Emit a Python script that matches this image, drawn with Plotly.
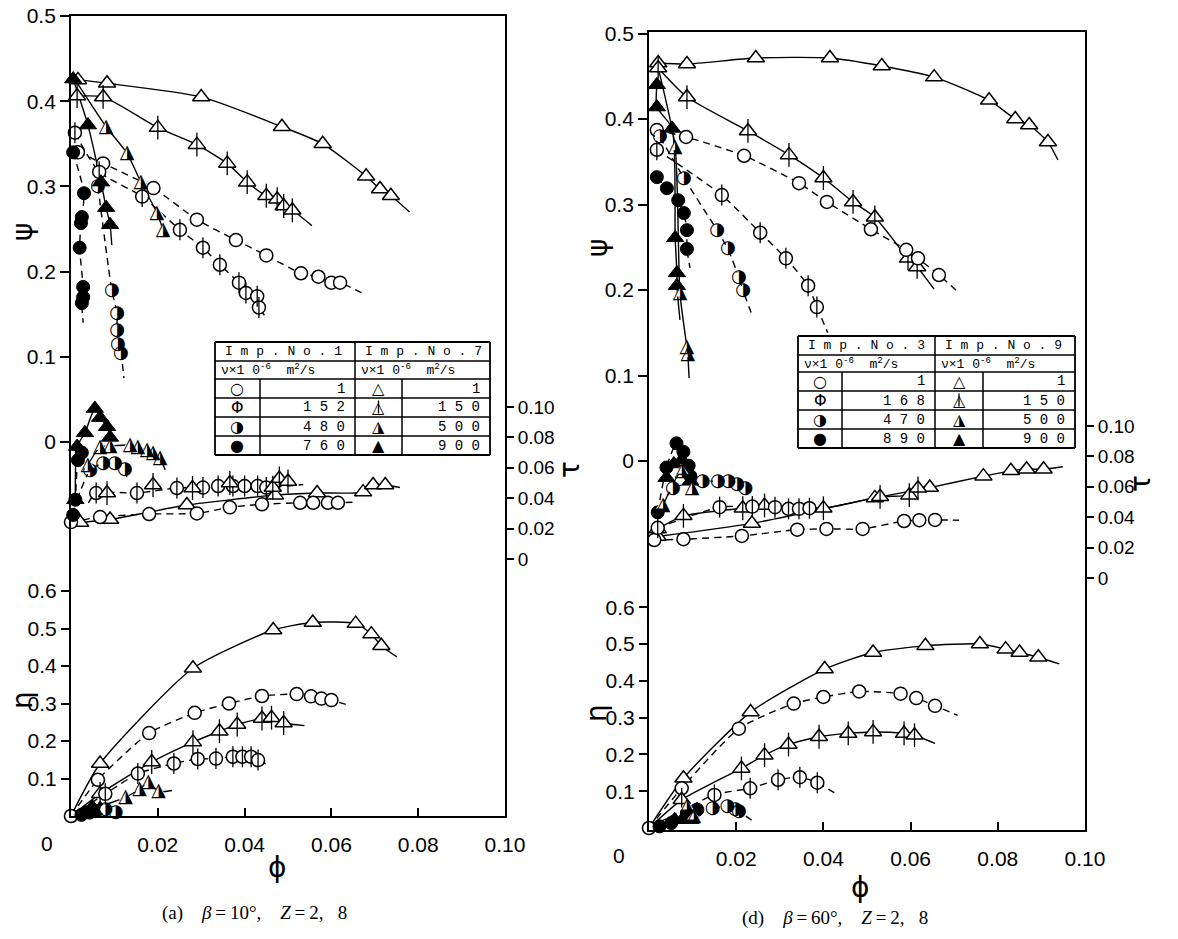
import plotly.graph_objects as go

W, H = 1178, 939

# ---------------- tick labels / texts ----------------
PHI_TICKS = [0.02, 0.04, 0.06, 0.08, 0.10]
PHI_TICK_TEXT = ["0.02", "0.04", "0.06", "0.08", "0.10"]
PSI_TICKS = [0, 0.1, 0.2, 0.3, 0.4, 0.5]
PSI_TICK_TEXT = ["0", "0.1", "0.2", "0.3", "0.4", "0.5"]
TAU_TICKS = [0, 0.02, 0.04, 0.06, 0.08, 0.10]
TAU_TICK_TEXT = ["0", "0.02", "0.04", "0.06", "0.08", "0.10"]
ETA_TICKS = [0.1, 0.2, 0.3, 0.4, 0.5, 0.6]
ETA_TICK_TEXT = ["0.1", "0.2", "0.3", "0.4", "0.5", "0.6"]

A_IMP = ["Imp.No.1", "Imp.No.7"]
A_NU_CIRCLE = ["1", "152", "480", "760"]
A_NU_TRIANGLE = ["1", "150", "500", "900"]
D_IMP = ["Imp.No.3", "Imp.No.9"]
D_NU_CIRCLE = ["1", "168", "470", "890"]
D_NU_TRIANGLE = ["1", "150", "500", "900"]
CAPTION_A = "(a)\u2003<i>β</i>\u2009=\u200910°,\u2003<i>Z</i>\u2009=\u20092,\u2002 8"
CAPTION_D = "(d)\u2003<i>β</i>\u2009=\u200960°,\u2003<i>Z</i>\u2009=\u20092,\u2002 8"

# ---------------- panel (a): psi ----------------
A_PSI_T_PHI = [0.0016, 0.0083, 0.030, 0.0486, 0.058, 0.068, 0.0712, 0.0737]
A_PSI_T_VAL = [0.425, 0.421, 0.405, 0.370, 0.350, 0.312, 0.297, 0.289]
A_PSI_T_END = [0.078, 0.270]
A_PSI_TB_PHI = [0.0014, 0.0074, 0.020, 0.029, 0.036, 0.0406, 0.045, 0.0475, 0.049, 0.051]
A_PSI_TB_VAL = [0.406, 0.405, 0.369, 0.349, 0.327, 0.305, 0.289, 0.285, 0.277, 0.272]
A_PSI_TB_END = [0.0555, 0.254]
A_PSI_O_PHI = [0.0016, 0.0074, 0.019, 0.029, 0.038, 0.045, 0.053, 0.057, 0.060, 0.062]
A_PSI_O_VAL = [0.340, 0.327, 0.298, 0.261, 0.237, 0.219, 0.198, 0.194, 0.187, 0.187]
A_PSI_O_END = [0.067, 0.175]
A_PSI_OB_PHI = [0.0009, 0.0065, 0.0164, 0.0251, 0.0304, 0.0343, 0.0387, 0.0403, 0.0429, 0.0433]
A_PSI_OB_VAL = [0.363, 0.317, 0.288, 0.249, 0.228, 0.208, 0.187, 0.175, 0.171, 0.158]
A_PSI_OB_END = [0.045, 0.146]
A_PSI_OH_PHI = [0.0062, 0.0094, 0.0106, 0.0106, 0.0108, 0.0115]
A_PSI_OH_VAL = [0.300, 0.178, 0.151, 0.131, 0.114, 0.104]
A_PSI_OH_END = [0.0122, 0.075]
A_PSI_OF_PHI = [0.0005, 0.003, 0.0025, 0.0023, 0.002, 0.0028, 0.0028, 0.0025]
A_PSI_OF_VAL = [0.340, 0.292, 0.264, 0.257, 0.228, 0.182, 0.170, 0.163]
A_PSI_OF_END = [0.0028, 0.140]
A_PSI_TF_PHI = [0.0005, 0.0039, 0.0069, 0.0081, 0.009]
A_PSI_TF_VAL = [0.426, 0.372, 0.305, 0.275, 0.255]
A_PSI_TF_END = [0.0094, 0.231]
A_PSI_TH_PHI = [0.0081, 0.0129, 0.0161, 0.0198, 0.0212]
A_PSI_TH_VAL = [0.370, 0.339, 0.305, 0.269, 0.249]
A_PSI_TH_START = [0.0016, 0.420]

# ---------------- panel (a): tau ----------------
A_TAU_T_PHI = [0.0021, 0.009, 0.0267, 0.047, 0.0567, 0.0673, 0.0696, 0.0724]
A_TAU_T_VAL = [0.024, 0.026, 0.0355, 0.042, 0.0434, 0.044, 0.0487, 0.0487]
A_TAU_T_END = [0.0758, 0.047]
A_TAU_O_PHI = [0.0, 0.0067, 0.018, 0.029, 0.0366, 0.044, 0.0528, 0.0558, 0.0592, 0.0615]
A_TAU_O_VAL = [0.0243, 0.0276, 0.0296, 0.030, 0.034, 0.036, 0.037, 0.037, 0.037, 0.037]
A_TAU_O_END = [0.066, 0.0375]
A_TAU_OB_PHI = [0.0058, 0.0152, 0.0244, 0.0304, 0.0339, 0.0373, 0.040, 0.043, 0.045]
A_TAU_OB_VAL = [0.0434, 0.0434, 0.0467, 0.047, 0.048, 0.048, 0.048, 0.048, 0.047]
A_TAU_OB_START = [0.004, 0.037]
A_TAU_OB_END = [0.0535, 0.049]
A_TAU_TB_PHI = [0.0083, 0.0189, 0.028, 0.0366, 0.0465, 0.048, 0.050]
A_TAU_TB_VAL = [0.0434, 0.0487, 0.0467, 0.050, 0.047, 0.053, 0.051]
A_TAU_OH_PHI = [0.0044, 0.0074, 0.0101, 0.0124]
A_TAU_OH_VAL = [0.0585, 0.063, 0.063, 0.059]
A_TAU_OH_START = [0.0014, 0.039]
A_TAU_OH_END = [0.013, 0.0507]
A_TAU_OF_PHI = [0.0005, 0.001, 0.0016, 0.0025]
A_TAU_OF_VAL = [0.029, 0.039, 0.065, 0.070]
A_TAU_TF_PHI = [0.001, 0.0014, 0.0032, 0.0055, 0.0067, 0.0083, 0.009]
A_TAU_TF_VAL = [0.039, 0.074, 0.083, 0.099, 0.093, 0.087, 0.080]
A_TAU_TH_PHI = [0.0039, 0.0067, 0.009, 0.0136, 0.0154, 0.0175, 0.0189, 0.0205]
A_TAU_TH_VAL = [0.062, 0.0737, 0.0743, 0.075, 0.0737, 0.0717, 0.0697, 0.0664]
A_TAU_TH_END = [0.0217, 0.0586]

# ---------------- panel (a): eta ----------------
A_ETA_T_PHI = [0.0067, 0.0281, 0.0466, 0.0557, 0.0656, 0.0692, 0.0715]
A_ETA_T_VAL = [0.140, 0.394, 0.496, 0.516, 0.513, 0.485, 0.454]
A_ETA_T_START = [0.0, 0.0]
A_ETA_T_END = [0.0751, 0.424]
A_ETA_O_PHI = [0.0, 0.0062, 0.018, 0.0285, 0.0364, 0.044, 0.052, 0.0553, 0.0577, 0.060]
A_ETA_O_VAL = [0.0, 0.0966, 0.221, 0.275, 0.300, 0.320, 0.325, 0.319, 0.313, 0.309]
A_ETA_O_END = [0.064, 0.295]
A_ETA_TB_PHI = [0.0067, 0.0186, 0.0281, 0.0342, 0.0383, 0.044, 0.0462, 0.049]
A_ETA_TB_VAL = [0.059, 0.144, 0.197, 0.226, 0.244, 0.260, 0.262, 0.248]
A_ETA_TB_START = [0.0, 0.0]
A_ETA_TB_END = [0.0538, 0.241]
A_ETA_OB_PHI = [0.0079, 0.0154, 0.0237, 0.0292, 0.0334, 0.0373, 0.0395, 0.0415, 0.0431]
A_ETA_OB_VAL = [0.059, 0.113, 0.140, 0.152, 0.153, 0.158, 0.158, 0.158, 0.149]
A_ETA_OB_START = [0.0, 0.0]
A_ETA_OB_END = [0.0458, 0.135]
A_ETA_TH_PHI = [0.0126, 0.0158, 0.0178, 0.0202]
A_ETA_TH_VAL = [0.050, 0.072, 0.090, 0.065]
A_ETA_TH_START = [0.0, 0.0]
A_ETA_TH_END = [0.0233, 0.068]
A_ETA_TF_PHI = [0.0032, 0.0049, 0.0067]
A_ETA_TF_VAL = [0.009, 0.024, 0.020]
A_ETA_OF_PHI = [0.0024, 0.0043, 0.0059]
A_ETA_OF_VAL = [0.003, 0.009, 0.0135]
A_ETA_OH_PHI = [0.0079, 0.0103]
A_ETA_OH_VAL = [0.018, 0.009]

# ---------------- panel (d): psi ----------------
D_PSI_T_PHI = [0.0021, 0.0087, 0.0245, 0.0415, 0.0534, 0.0654, 0.078, 0.084, 0.0872, 0.0915]
D_PSI_T_VAL = [0.4655, 0.4643, 0.4713, 0.4713, 0.462, 0.449, 0.422, 0.400, 0.393, 0.373]
D_PSI_T_END = [0.0938, 0.352]
D_PSI_TB_PHI = [0.0021, 0.0087, 0.0227, 0.0321, 0.040, 0.0468, 0.0518, 0.0594, 0.0615]
D_PSI_TB_VAL = [0.4596, 0.4257, 0.386, 0.358, 0.331, 0.303, 0.285, 0.237, 0.227]
D_PSI_TB_END = [0.0654, 0.201]
D_PSI_O_PHI = [0.0018, 0.0085, 0.0218, 0.0344, 0.0408, 0.0509, 0.059, 0.0617, 0.0665]
D_PSI_O_VAL = [0.387, 0.379, 0.357, 0.325, 0.303, 0.271, 0.247, 0.237, 0.2175]
D_PSI_O_END = [0.0706, 0.199]
D_PSI_OB_PHI = [0.0018, 0.0167, 0.0255, 0.0314, 0.0365, 0.0385]
D_PSI_OB_VAL = [0.364, 0.311, 0.267, 0.237, 0.205, 0.180]
D_PSI_OB_END = [0.041, 0.150]
D_PSI_OH_PHI = [0.0025, 0.008, 0.0156, 0.0181, 0.0206, 0.0216]
D_PSI_OH_VAL = [0.379, 0.331, 0.270, 0.248, 0.215, 0.199]
D_PSI_OH_END = [0.0236, 0.171]
D_PSI_OF_PHI = [0.0018, 0.0041, 0.0067, 0.008, 0.0087, 0.0087]
D_PSI_OF_VAL = [0.332, 0.319, 0.305, 0.290, 0.270, 0.248]
D_PSI_OF_END = [0.0094, 0.226]
D_PSI_TF_PHI = [0.0018, 0.0018, 0.0053, 0.006, 0.0064, 0.0064]
D_PSI_TF_VAL = [0.440, 0.414, 0.389, 0.261, 0.220, 0.205]
D_PSI_TF_END = [0.0071, 0.165]
D_PSI_TH_PHI = [0.006, 0.0071, 0.0087, 0.0089]
D_PSI_TH_VAL = [0.367, 0.196, 0.133, 0.125]
D_PSI_TH_START = [0.0021, 0.460]
D_PSI_TH_END = [0.0092, 0.097]

# ---------------- panel (d): tau ----------------
D_TAU_T_PHI = [0.002, 0.0236, 0.0518, 0.0644, 0.0767, 0.083, 0.0866, 0.0905]
D_TAU_T_VAL = [0.0273, 0.0359, 0.0527, 0.0595, 0.067, 0.0705, 0.0716, 0.0716]
D_TAU_T_END = [0.0949, 0.0732]
D_TAU_TB_PHI = [0.002, 0.0079, 0.0215, 0.0265, 0.040, 0.053, 0.0597, 0.0617]
D_TAU_TB_VAL = [0.0323, 0.0409, 0.0459, 0.0477, 0.0459, 0.0534, 0.0545, 0.059]
D_TAU_TB_END = [0.064, 0.060]
D_TAU_O_PHI = [0.0012, 0.0079, 0.0213, 0.034, 0.0407, 0.049, 0.0585, 0.062, 0.0656]
D_TAU_O_VAL = [0.025, 0.0255, 0.0277, 0.0318, 0.0323, 0.0323, 0.0375, 0.038, 0.0382]
D_TAU_O_END = [0.0711, 0.038]
D_TAU_OB_PHI = [0.002, 0.0162, 0.0237, 0.0289, 0.032, 0.0344, 0.0368]
D_TAU_OB_VAL = [0.033, 0.0466, 0.047, 0.0466, 0.0455, 0.0455, 0.0459]
D_TAU_OB_END = [0.0403, 0.0459]
D_TAU_OH_PHI = [0.0055, 0.0123, 0.0158, 0.0182, 0.0202, 0.0221]
D_TAU_OH_VAL = [0.059, 0.0636, 0.0636, 0.0632, 0.0614, 0.059]
D_TAU_OH_START = [0.0016, 0.040]
D_TAU_OF_PHI = [0.002, 0.004, 0.0063, 0.0079, 0.0091, 0.0095]
D_TAU_OF_VAL = [0.0432, 0.0727, 0.0886, 0.083, 0.0739, 0.067]
D_TAU_TF_PHI = [0.004, 0.0057, 0.0075, 0.0087, 0.0095]
D_TAU_TF_VAL = [0.066, 0.075, 0.0777, 0.0705, 0.0636]
D_TAU_TH_PHI = [0.0032, 0.0075, 0.0099]
D_TAU_TH_VAL = [0.0477, 0.0705, 0.059]

# ---------------- panel (d): eta ----------------
D_ETA_T_PHI = [0.0079, 0.0233, 0.0403, 0.0514, 0.0634, 0.0759, 0.0818, 0.085, 0.0893]
D_ETA_T_VAL = [0.135, 0.315, 0.432, 0.477, 0.495, 0.500, 0.486, 0.477, 0.464]
D_ETA_T_START = [0.0, 0.0]
D_ETA_T_END = [0.0941, 0.446]
D_ETA_O_PHI = [0.0, 0.0075, 0.0206, 0.0332, 0.040, 0.0482, 0.0577, 0.0613, 0.0656]
D_ETA_O_VAL = [0.0, 0.108, 0.270, 0.338, 0.356, 0.371, 0.365, 0.353, 0.332]
D_ETA_O_END = [0.0708, 0.306]
D_ETA_TB_PHI = [0.0075, 0.0212, 0.0265, 0.032, 0.039, 0.0457, 0.0514, 0.0585, 0.0609]
D_ETA_TB_VAL = [0.0766, 0.162, 0.198, 0.227, 0.248, 0.257, 0.261, 0.257, 0.252]
D_ETA_TB_START = [0.0, 0.0]
D_ETA_TB_END = [0.0656, 0.230]
D_ETA_OB_PHI = [0.015, 0.0232, 0.0296, 0.0346, 0.0386]
D_ETA_OB_VAL = [0.090, 0.108, 0.131, 0.138, 0.123]
D_ETA_OB_START = [0.0, 0.0]
D_ETA_OB_END = [0.0427, 0.0946]
D_ETA_OH_PHI = [0.0146, 0.018, 0.0198, 0.0206]
D_ETA_OH_VAL = [0.054, 0.0586, 0.0495, 0.045]
D_ETA_OH_END = [0.0245, 0.0135]
D_ETA_OF_PHI = [0.0024, 0.0051, 0.0087, 0.0111]
D_ETA_OF_VAL = [0.0045, 0.0135, 0.0405, 0.0495]
D_ETA_TF_PHI = [0.0059, 0.0079, 0.0095]
D_ETA_TF_VAL = [0.0225, 0.027, 0.0225]
D_ETA_TH_PHI = [0.0087, 0.0103]
D_ETA_TH_VAL = [0.0586, 0.0315]

# ---------------- series registry: (xaxis, yaxis, kind, phi, value, start, end, draw_line) ----------------
SERIES = [
    ("x", "y", "T", A_PSI_T_PHI, A_PSI_T_VAL, None, A_PSI_T_END, True),
    ("x", "y", "TB", A_PSI_TB_PHI, A_PSI_TB_VAL, None, A_PSI_TB_END, True),
    ("x", "y", "O", A_PSI_O_PHI, A_PSI_O_VAL, None, A_PSI_O_END, True),
    ("x", "y", "OB", A_PSI_OB_PHI, A_PSI_OB_VAL, None, A_PSI_OB_END, True),
    ("x", "y", "OH", A_PSI_OH_PHI, A_PSI_OH_VAL, None, A_PSI_OH_END, True),
    ("x", "y", "OF", A_PSI_OF_PHI, A_PSI_OF_VAL, None, A_PSI_OF_END, True),
    ("x", "y", "TF", A_PSI_TF_PHI, A_PSI_TF_VAL, None, A_PSI_TF_END, True),
    ("x", "y", "TH", A_PSI_TH_PHI, A_PSI_TH_VAL, A_PSI_TH_START, None, True),
    ("x", "y2", "T", A_TAU_T_PHI, A_TAU_T_VAL, None, A_TAU_T_END, True),
    ("x", "y2", "O", A_TAU_O_PHI, A_TAU_O_VAL, None, A_TAU_O_END, True),
    ("x", "y2", "OB", A_TAU_OB_PHI, A_TAU_OB_VAL, A_TAU_OB_START, A_TAU_OB_END, True),
    ("x", "y2", "TB", A_TAU_TB_PHI, A_TAU_TB_VAL, None, None, False),
    ("x", "y2", "OH", A_TAU_OH_PHI, A_TAU_OH_VAL, A_TAU_OH_START, A_TAU_OH_END, True),
    ("x", "y2", "OF", A_TAU_OF_PHI, A_TAU_OF_VAL, None, None, True),
    ("x", "y2", "TF", A_TAU_TF_PHI, A_TAU_TF_VAL, None, None, True),
    ("x", "y2", "TH", A_TAU_TH_PHI, A_TAU_TH_VAL, None, A_TAU_TH_END, True),
    ("x", "y3", "T", A_ETA_T_PHI, A_ETA_T_VAL, A_ETA_T_START, A_ETA_T_END, True),
    ("x", "y3", "O", A_ETA_O_PHI, A_ETA_O_VAL, None, A_ETA_O_END, True),
    ("x", "y3", "TB", A_ETA_TB_PHI, A_ETA_TB_VAL, A_ETA_TB_START, A_ETA_TB_END, True),
    ("x", "y3", "OB", A_ETA_OB_PHI, A_ETA_OB_VAL, A_ETA_OB_START, A_ETA_OB_END, True),
    ("x", "y3", "TH", A_ETA_TH_PHI, A_ETA_TH_VAL, A_ETA_TH_START, A_ETA_TH_END, True),
    ("x", "y3", "TF", A_ETA_TF_PHI, A_ETA_TF_VAL, None, None, False),
    ("x", "y3", "OF", A_ETA_OF_PHI, A_ETA_OF_VAL, None, None, False),
    ("x", "y3", "OH", A_ETA_OH_PHI, A_ETA_OH_VAL, None, None, False),
    ("x2", "y4", "T", D_PSI_T_PHI, D_PSI_T_VAL, None, D_PSI_T_END, True),
    ("x2", "y4", "TB", D_PSI_TB_PHI, D_PSI_TB_VAL, None, D_PSI_TB_END, True),
    ("x2", "y4", "O", D_PSI_O_PHI, D_PSI_O_VAL, None, D_PSI_O_END, True),
    ("x2", "y4", "OB", D_PSI_OB_PHI, D_PSI_OB_VAL, None, D_PSI_OB_END, True),
    ("x2", "y4", "OH", D_PSI_OH_PHI, D_PSI_OH_VAL, None, D_PSI_OH_END, True),
    ("x2", "y4", "OF", D_PSI_OF_PHI, D_PSI_OF_VAL, None, D_PSI_OF_END, True),
    ("x2", "y4", "TF", D_PSI_TF_PHI, D_PSI_TF_VAL, None, D_PSI_TF_END, True),
    ("x2", "y4", "TH", D_PSI_TH_PHI, D_PSI_TH_VAL, D_PSI_TH_START, D_PSI_TH_END, True),
    ("x2", "y5", "T", D_TAU_T_PHI, D_TAU_T_VAL, None, D_TAU_T_END, True),
    ("x2", "y5", "TB", D_TAU_TB_PHI, D_TAU_TB_VAL, None, D_TAU_TB_END, True),
    ("x2", "y5", "O", D_TAU_O_PHI, D_TAU_O_VAL, None, D_TAU_O_END, True),
    ("x2", "y5", "OB", D_TAU_OB_PHI, D_TAU_OB_VAL, None, D_TAU_OB_END, True),
    ("x2", "y5", "OH", D_TAU_OH_PHI, D_TAU_OH_VAL, D_TAU_OH_START, None, True),
    ("x2", "y5", "OF", D_TAU_OF_PHI, D_TAU_OF_VAL, None, None, True),
    ("x2", "y5", "TF", D_TAU_TF_PHI, D_TAU_TF_VAL, None, None, True),
    ("x2", "y5", "TH", D_TAU_TH_PHI, D_TAU_TH_VAL, None, None, True),
    ("x2", "y6", "T", D_ETA_T_PHI, D_ETA_T_VAL, D_ETA_T_START, D_ETA_T_END, True),
    ("x2", "y6", "O", D_ETA_O_PHI, D_ETA_O_VAL, None, D_ETA_O_END, True),
    ("x2", "y6", "TB", D_ETA_TB_PHI, D_ETA_TB_VAL, D_ETA_TB_START, D_ETA_TB_END, True),
    ("x2", "y6", "OB", D_ETA_OB_PHI, D_ETA_OB_VAL, D_ETA_OB_START, D_ETA_OB_END, True),
    ("x2", "y6", "OH", D_ETA_OH_PHI, D_ETA_OH_VAL, None, D_ETA_OH_END, True),
    ("x2", "y6", "OF", D_ETA_OF_PHI, D_ETA_OF_VAL, None, None, False),
    ("x2", "y6", "TF", D_ETA_TF_PHI, D_ETA_TF_VAL, None, None, False),
    ("x2", "y6", "TH", D_ETA_TH_PHI, D_ETA_TH_VAL, None, None, False),
]

# ---------------- styling / layout calibration (pixels) ----------------
FONT = "Liberation Sans, Arial, DejaVu Sans, sans-serif"
SERIF = "Liberation Serif, Times New Roman, DejaVu Serif, serif"
MONO = "Liberation Mono, DejaVu Sans Mono, monospace"
GLYPH = "DejaVu Sans, sans-serif"
PANEL_A = dict(x0=71, x1=505, top=16, bottom=816, psi0=442, psi_px=852,
               tau0=559, tau_px=1520, eta0=816, eta_px=375)
PANEL_D = dict(x0=649, x1=1085, top=32, bottom=830, psi0=461, psi_px=855,
               tau0=578, tau_px=1520, eta0=828, eta_px=368)

fig = go.Figure()

# lines first
for xa, ya, kind, phi, val, start, end, draw_line in SERIES:
    if not draw_line:
        continue
    lx = ([start[0]] if start else []) + list(phi) + ([end[0]] if end else [])
    ly = ([start[1]] if start else []) + list(val) + ([end[1]] if end else [])
    dash = "7px,5px" if kind.startswith("O") else "solid"
    fig.add_trace(go.Scatter(
        x=lx, y=ly, xaxis=xa, yaxis=ya, mode="lines",
        line=dict(color="black", width=1.4, dash=dash, shape="spline", smoothing=0.6),
        hoverinfo="skip", showlegend=False, cliponaxis=False))

# markers
for xa, ya, kind, phi, val, start, end, draw_line in SERIES:
    circ = kind.startswith("O")
    sym = "circle" if circ else "triangle-up"
    size = 13 if circ else 15
    common = dict(x=phi, y=val, xaxis=xa, yaxis=ya, hoverinfo="skip",
                  showlegend=False, cliponaxis=False)
    if kind in ("O", "T", "OB", "TB"):
        fig.add_trace(go.Scatter(mode="markers", marker=dict(
            symbol=sym, size=size, color="white",
            line=dict(color="black", width=1.5)), **common))
        if kind in ("OB", "TB"):
            fig.add_trace(go.Scatter(mode="markers", marker=dict(
                symbol="line-ns", size=size + 2, color="black",
                line=dict(color="black", width=1.3)), **common))
    elif kind in ("OF", "TF"):
        fig.add_trace(go.Scatter(mode="markers", marker=dict(
            symbol=sym, size=size, color="black",
            line=dict(color="black", width=1)), **common))
    else:  # half-filled
        fig.add_trace(go.Scatter(mode="markers", marker=dict(
            symbol=sym, size=size - 3, color="white", line=dict(width=0)), **common))
        fig.add_trace(go.Scatter(mode="text", text=["◑" if circ else "◮"] * len(phi),
                                 textposition="middle center",
                                 textfont=dict(size=18 if circ else 19, family=GLYPH, color="black"),
                                 **common))


def xcfg(p):
    return dict(domain=[p["x0"] / W, p["x1"] / W], range=[0, 0.1],
                showline=True, mirror=True, linecolor="black", linewidth=1.8,
                ticks="inside", ticklen=8, tickwidth=1.5, tickcolor="black",
                tickvals=PHI_TICKS, ticktext=PHI_TICK_TEXT, ticklabelstandoff=9,
                tickfont=dict(size=21, family=FONT, color="black"),
                showgrid=False, zeroline=False, automargin=False, fixedrange=True)


def ycfg(p, kind, xname, base=None):
    dom = [1 - p["bottom"] / H, 1 - p["top"] / H]
    d = dict(showgrid=False, zeroline=False, automargin=False, fixedrange=True,
             anchor=xname, linecolor="black", linewidth=1.8, tickcolor="black",
             tickwidth=1.5, ticks="outside")
    if kind == "psi":
        d.update(domain=dom, side="left", showline=True, ticklen=9,
                 range=[(p["psi0"] - p["bottom"]) / p["psi_px"], (p["psi0"] - p["top"]) / p["psi_px"]],
                 tickvals=PSI_TICKS, ticktext=PSI_TICK_TEXT,
                 tickfont=dict(size=21, family=FONT, color="black"))
    elif kind == "tau":
        d.update(overlaying=base, side="right", showline=True, ticklen=7,
                 range=[(p["tau0"] - p["bottom"]) / p["tau_px"], (p["tau0"] - p["top"]) / p["tau_px"]],
                 tickvals=TAU_TICKS, ticktext=TAU_TICK_TEXT,
                 tickfont=dict(size=19, family=FONT, color="black"))
    else:
        d.update(overlaying=base, side="left", showline=False, ticklen=9,
                 range=[(p["eta0"] - p["bottom"]) / p["eta_px"], (p["eta0"] - p["top"]) / p["eta_px"]],
                 tickvals=ETA_TICKS, ticktext=ETA_TICK_TEXT,
                 tickfont=dict(size=21, family=FONT, color="black"))
    return d


fig.update_layout(
    width=W, height=H, margin=dict(l=0, r=0, t=0, b=0), autosize=False,
    template="none", paper_bgcolor="white", plot_bgcolor="rgba(0,0,0,0)",
    showlegend=False,
    xaxis=dict(anchor="y", **xcfg(PANEL_A)),
    xaxis2=dict(anchor="y4", **xcfg(PANEL_D)),
    yaxis=ycfg(PANEL_A, "psi", "x"),
    yaxis2=ycfg(PANEL_A, "tau", "x", "y"),
    yaxis3=ycfg(PANEL_A, "eta", "x", "y"),
    yaxis4=ycfg(PANEL_D, "psi", "x2"),
    yaxis5=ycfg(PANEL_D, "tau", "x2", "y4"),
    yaxis6=ycfg(PANEL_D, "eta", "x2", "y4"),
)

ann = []
shapes = []


def pa(x, y, text, size=21, family=FONT, angle=0, xanchor="center", yanchor="middle"):
    ann.append(dict(x=x / W, y=1 - y / H, xref="paper", yref="paper", text=text,
                    showarrow=False, textangle=angle, xanchor=xanchor, yanchor=yanchor,
                    font=dict(size=size, family=family, color="black")))


# origin labels, axis titles, captions
pa(47, 843, "0")
pa(619, 855, "0")
pa(22, 232, "ψ", size=28, family=GLYPH, angle=-90)
pa(22, 700, "η", size=28, family=GLYPH, angle=-90)
pa(569, 470, "τ", size=28, family=GLYPH, angle=-90)
pa(277, 867, "ϕ", size=28, family=GLYPH)
pa(598, 248, "ψ", size=28, family=GLYPH, angle=-90)
pa(596, 713, "η", size=28, family=GLYPH, angle=-90)
pa(1141, 484, "τ", size=28, family=GLYPH, angle=-90)
pa(860, 887, "ϕ", size=28, family=GLYPH)
pa(254, 913, CAPTION_A, size=19, family=SERIF)
pa(835, 918, CAPTION_D, size=19, family=SERIF)


def spaced(s):
    return "\u00a0".join(list(s))


def table(L, R, rows, mid, c1, c2, imp, nu_c, nu_t):
    def ln(x0, y0, x1, y1, w=1.5):
        shapes.append(dict(type="line", xref="paper", yref="paper",
                           x0=x0 / W, y0=1 - y0 / H, x1=x1 / W, y1=1 - y1 / H,
                           line=dict(color="black", width=w)))
    ln(L, rows[0], R, rows[0], 1.8)
    ln(L, rows[-1], R, rows[-1], 1.8)
    for r in rows[1:-1]:
        ln(L, r, R, r)
    ln(L, rows[0], L, rows[-1], 1.8)
    ln(R, rows[0], R, rows[-1], 1.8)
    ln(mid, rows[0], mid, rows[-1], 1.5)
    ln(c1, rows[2], c1, rows[-1])
    ln(c2, rows[2], c2, rows[-1])
    cy = [(rows[i] + rows[i + 1]) / 2 for i in range(len(rows) - 1)]
    pa(L + 8, cy[0], spaced(imp[0]), size=13, family=MONO, xanchor="left")
    pa(mid + 8, cy[0], spaced(imp[1]), size=13, family=MONO, xanchor="left")
    nu = "ν×1\u00a00<sup>-6</sup>\u00a0\u00a0m<sup>2</sup>/s"
    pa(L + 4, cy[1], nu, size=13, family=MONO, xanchor="left")
    pa(mid + 4, cy[1], nu, size=13, family=MONO, xanchor="left")
    circ_glyphs = ["○", "Φ", "◑", "●"]
    tri_glyphs = ["△", "△", "◮", "▲"]
    for i in range(4):
        y = cy[2 + i]
        pa((L + c1) / 2, y, circ_glyphs[i], size=16, family=GLYPH)
        pa((mid + c2) / 2, y, tri_glyphs[i], size=16, family=GLYPH)
        if i == 1:
            ln((mid + c2) / 2, y - 7, (mid + c2) / 2, y + 6, 1.3)
        pa(mid - 8, y, spaced(nu_c[i]), size=14, family=MONO, xanchor="right")
        pa(R - 8, y, spaced(nu_t[i]), size=14, family=MONO, xanchor="right")


table(215, 490, [342, 361, 379, 398, 417, 436, 455], 355, 260, 402, A_IMP, A_NU_CIRCLE, A_NU_TRIANGLE)
table(798, 1075, [336, 355, 372, 391, 410, 429, 448], 935, 842, 983, D_IMP, D_NU_CIRCLE, D_NU_TRIANGLE)

fig.update_layout(annotations=ann, shapes=shapes)
fig.write_html("out.html")
